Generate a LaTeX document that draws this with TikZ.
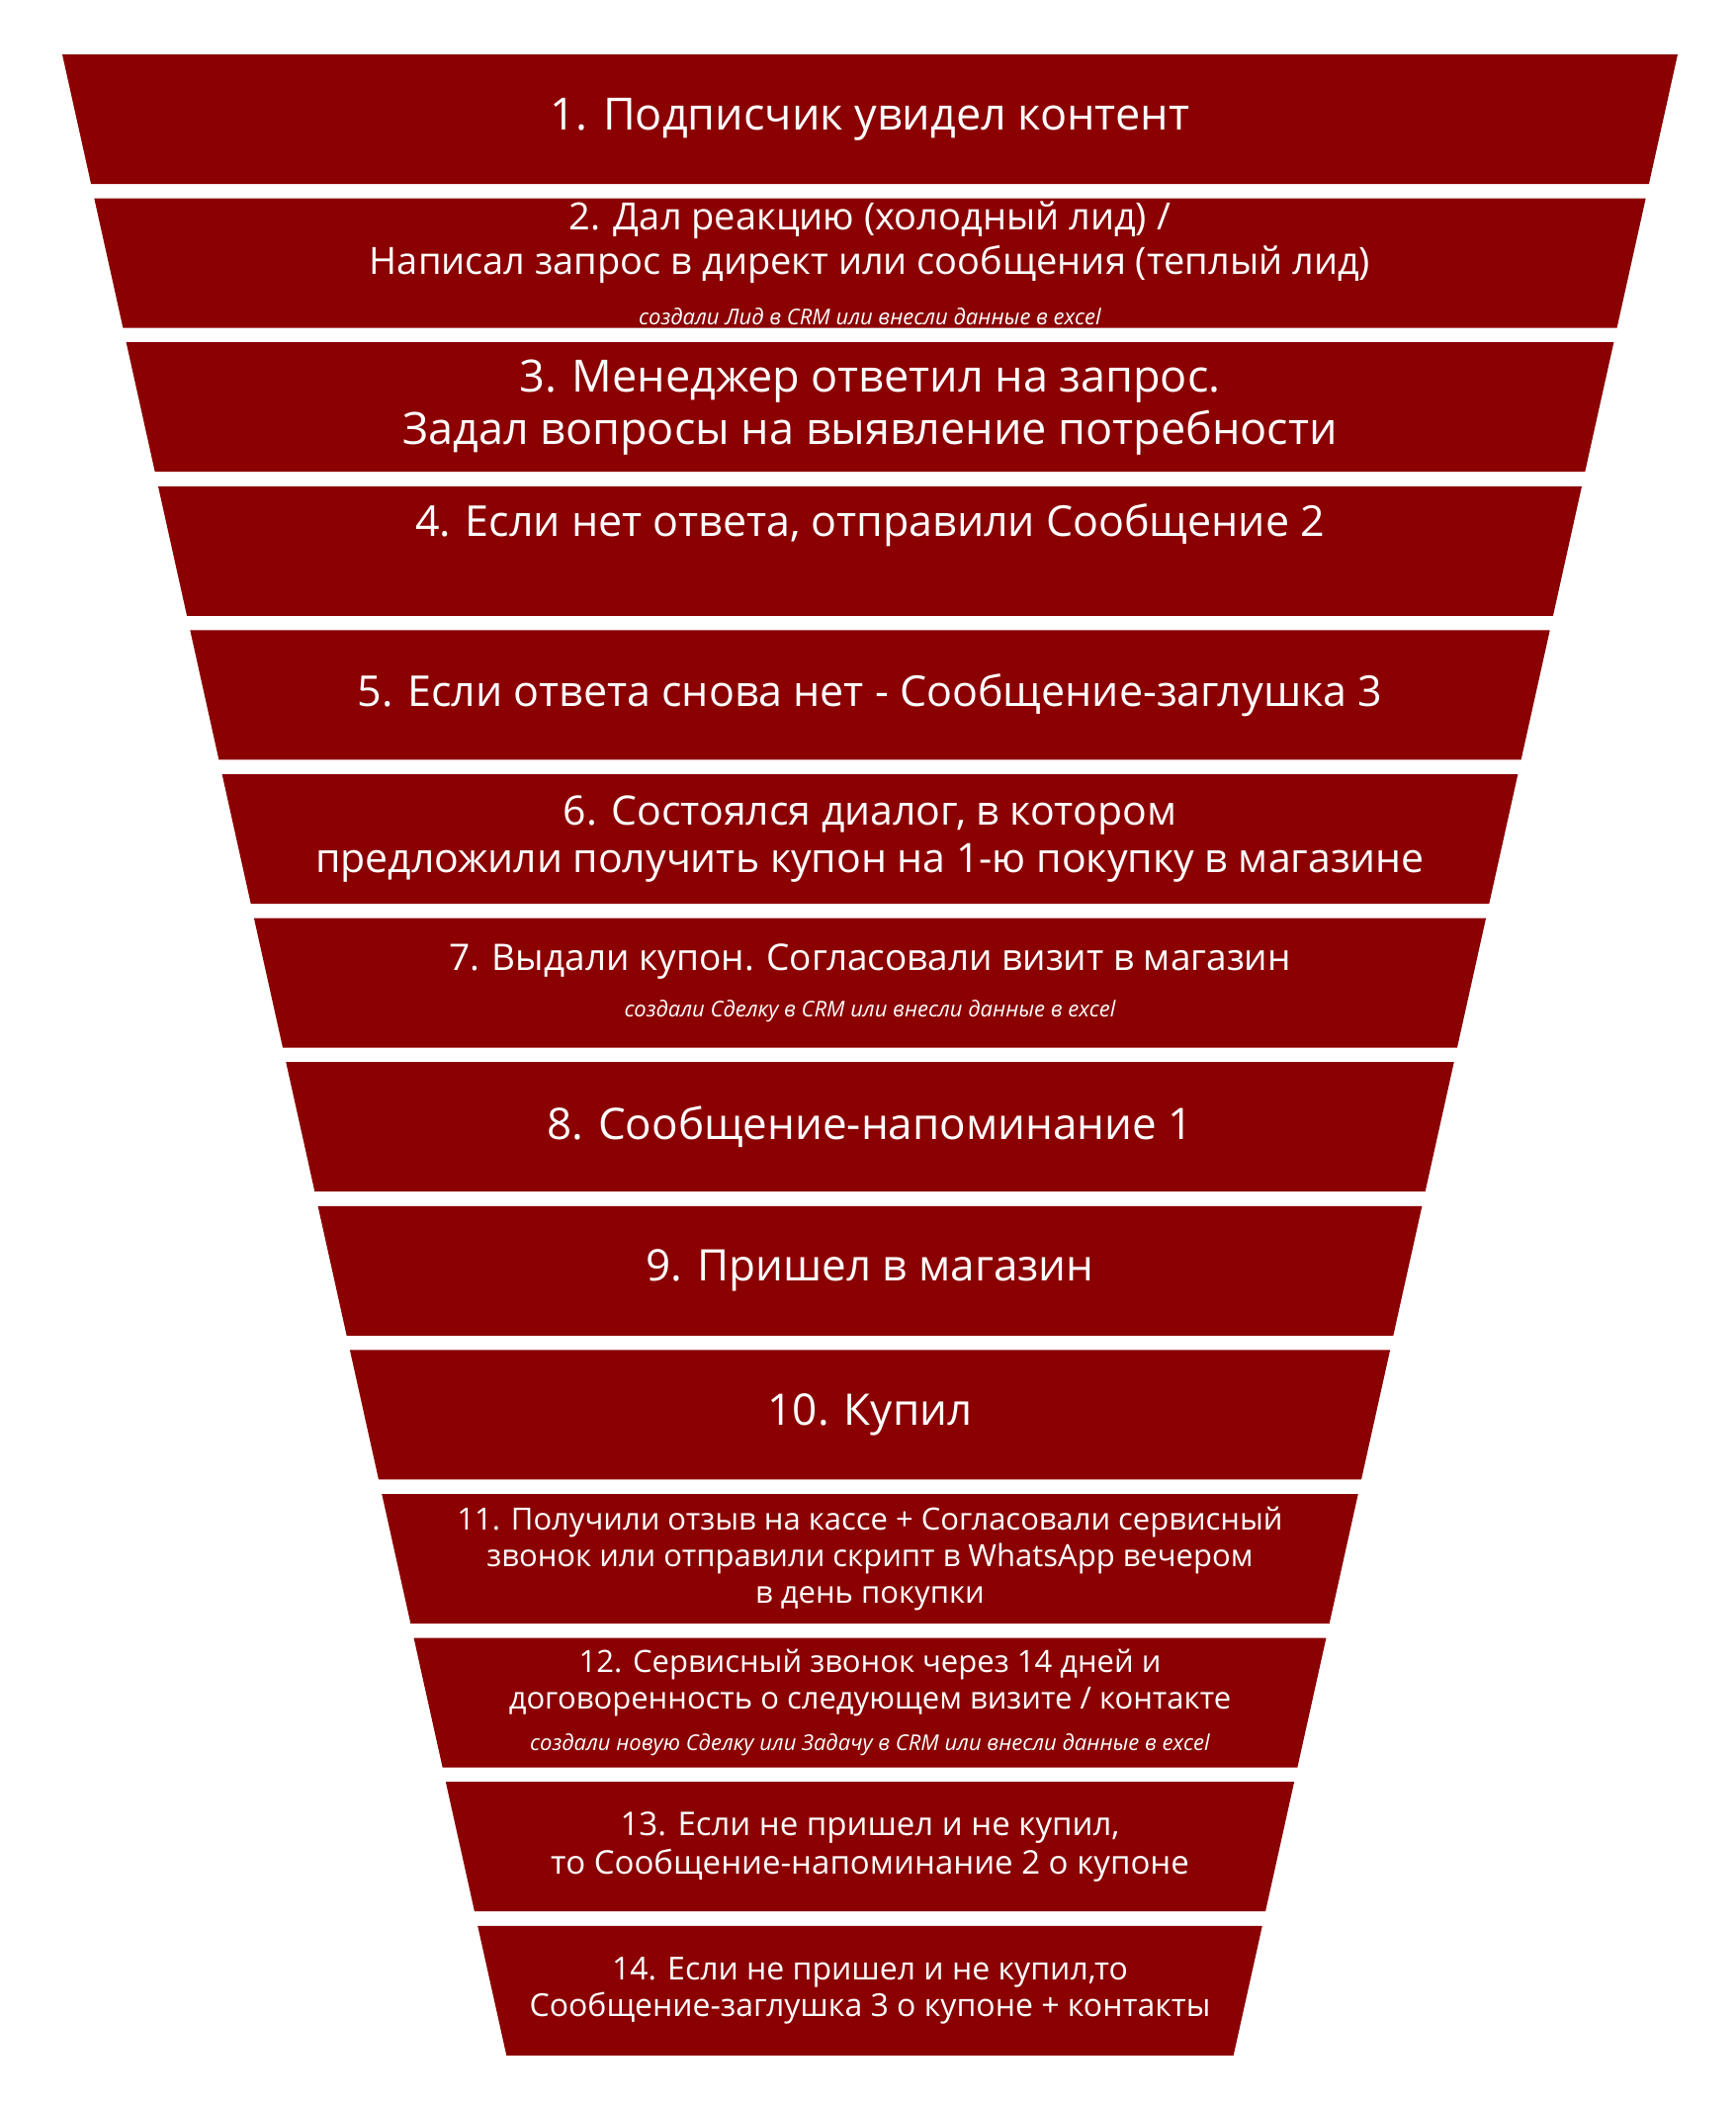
\documentclass[tikz,border=0pt]{standalone}
\usepackage{fontspec}
\setmainfont{Open Sans}
\definecolor{bandred}{HTML}{8B0000}
\newcommand\fs[1]{\fontsize{#1}{\dimexpr #1pt*118/100\relax}\selectfont}
\newcommand\sm{\fontsize{22}{26}\selectfont\itshape}
% band: index, name, font size, text
\newcommand\fband[4]{%
  \pgfmathsetmacro\tp{55+145.6*(#1-1)}%
  \pgfmathsetmacro\bt{\tp+131}%
  \pgfmathsetmacro\hwt{817-0.222*(\tp-55)}%
  \pgfmathsetmacro\hwb{817-0.222*(\bt-55)}%
  \fill[bandred] (880-\hwt,-\tp) -- (880+\hwt,-\tp) -- (880+\hwb,-\bt) -- (880-\hwb,-\bt) -- cycle;
  \node[txt,font=\fs{#3}] (#2) at (880,{-(\tp+\bt)/2}) {#4};}
\begin{document}
\begin{tikzpicture}[x=1pt,y=1pt,txt/.style={text=white,align=center,inner sep=0pt}]
\useasboundingbox (0,0) rectangle (1756,-2129);
\fband{1}{b1}{45}{1. Подписчик увидел контент}
\fband{2}{b2}{38}{2. Дал реакцию (холодный лид) /\\ Написал запрос в директ или сообщения (теплый лид)\\[6pt] \sm создали Лид в CRM или внесли данные в excel}
\fband{3}{b3}{45}{3. Менеджер ответил на запрос.\\ Задал вопросы на выявление потребности}
\fband{4}{b4}{43}{4. Если нет ответа, отправили Сообщение 2\\[12pt]}
\fband{5}{b5}{43}{5. Если ответа снова нет - Сообщение-заглушка 3}
\fband{6}{b6}{41}{6. Состоялся диалог, в котором\\ предложили получить купон на 1-ю покупку в магазине}
\fband{7}{b7}{37}{7. Выдали купон. Согласовали визит в магазин\\[4pt] \sm создали Сделку в CRM или внесли данные в excel}
\fband{8}{b8}{44}{8. Сообщение-напоминание 1}
\fband{9}{b9}{44}{9. Пришел в магазин}
\fband{10}{b10}{44}{10. Купил}
\fband{11}{b11}{31}{11. Получили отзыв на кассе + Согласовали сервисный\\ звонок или отправили скрипт в WhatsApp вечером\\ в день покупки}
\fband{12}{b12}{31}{12. Сервисный звонок через 14 дней и\\ договоренность о следующем визите / контакте\\[6pt] \sm создали новую Сделку или Задачу в CRM или внесли данные в excel}
\fband{13}{b13}{33}{13. Если не пришел и не купил,\\ то Сообщение-напоминание 2 о купоне}
\fband{14}{b14}{32}{14. Если не пришел и не купил,то\\ Сообщение-заглушка 3 о купоне + контакты}
\end{tikzpicture}
\end{document}
